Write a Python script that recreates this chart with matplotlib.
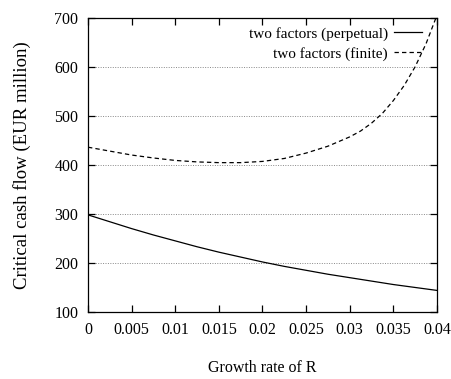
import numpy as np
import matplotlib
matplotlib.use('Agg')
import matplotlib.pyplot as plt

plt.rcParams['font.family'] = ['Liberation Serif', 'DejaVu Serif']
plt.rcParams['font.size'] = 11

# growth rate of R
growth = [0.0, 0.0025, 0.005, 0.0075, 0.01, 0.0125, 0.015, 0.0175, 0.02,
          0.0225, 0.025, 0.0275, 0.03, 0.03125, 0.0325, 0.03375, 0.035,
          0.03625, 0.0375, 0.03875, 0.04]

# critical cash flow, EUR million
perpetual = [298, 284, 270, 257, 245, 233, 222, 212, 202,
             193, 185, 177, 170, 166.5, 163, 159.5, 156,
             153, 150, 147, 144]
finite = [436, 428, 420, 414, 409, 406, 404.5, 404.5, 407,
          413, 424, 438, 457, 469, 485, 505, 531,
          562, 600, 647, 705]

xticks = [0, 0.005, 0.01, 0.015, 0.02, 0.025, 0.03, 0.035, 0.04]
xticklabels = ['0', '0.005', '0.01', '0.015', '0.02', '0.025', '0.03', '0.035', '0.04']
yticks = [100, 200, 300, 400, 500, 600, 700]

fig = plt.figure(figsize=(4.52, 3.79), dpi=100)
ax = fig.add_axes([0.1947, 0.1768, 0.772, 0.7765])

ax.plot(growth, perpetual, color='black', lw=0.9, label='two factors (perpetual)')
ax.plot(growth, finite, color='black', lw=0.9, dashes=(3.5, 2.5),
        label='two factors (finite)')

ax.set_xlim(0, 0.04)
ax.set_ylim(100, 700)
ax.set_xticks(xticks)
ax.set_xticklabels(xticklabels)
ax.set_yticks(yticks)

ax.yaxis.grid(True, color='#888888', linestyle=(0, (1, 1.5)), lw=0.7)
ax.set_axisbelow(True)

ax.tick_params(direction='in', length=5, width=0.9, top=True, right=True,
               pad=7, labelsize=11.5)
for s in ax.spines.values():
    s.set_linewidth(0.9)

ax.set_xlabel('Growth rate of R', fontsize=11.5, labelpad=16)
ax.set_ylabel('Critical cash flow (EUR million)', fontsize=13.5, labelpad=17)

ax.legend(loc='upper right', bbox_to_anchor=(0.977, 0.992), frameon=False,
          markerfirst=False, handlelength=1.85, handletextpad=0.4,
          labelspacing=0.38, borderaxespad=0, borderpad=0.45, fontsize=11)

fig.savefig('out.png', dpi=100)
